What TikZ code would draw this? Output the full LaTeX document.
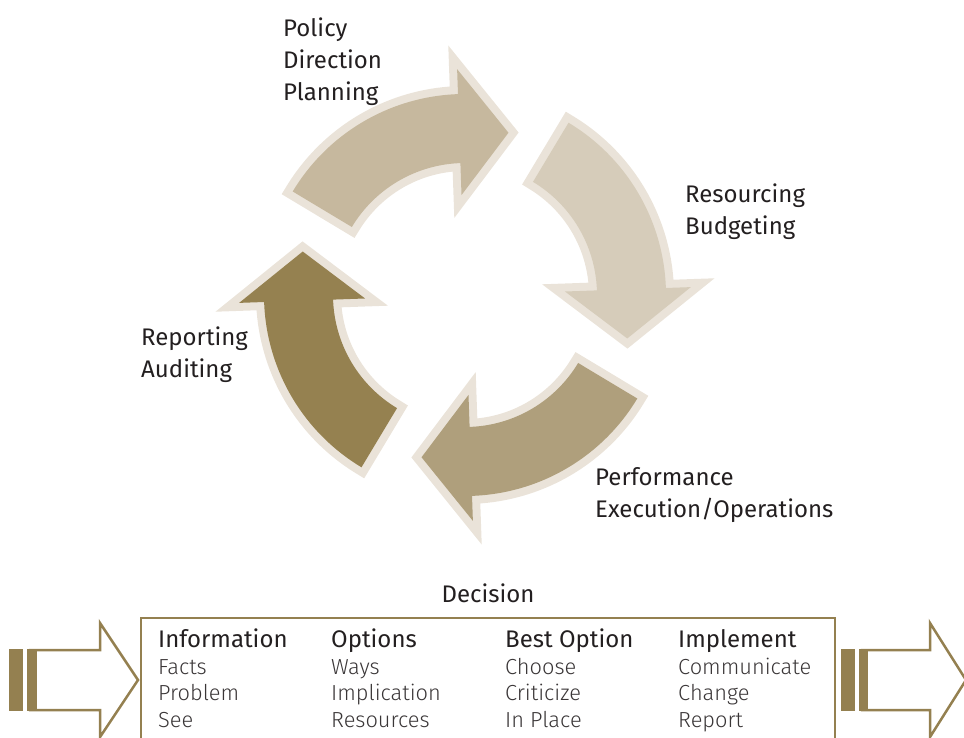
\documentclass[tikz,border=0pt]{standalone}
\usepackage{fontspec}
\setmainfont{Fira Sans}
\newfontfamily\lightfont{Fira Sans Light}
\definecolor{bord}{HTML}{EAE3D9}
\definecolor{cA}{HTML}{C6B89E}
\definecolor{cB}{HTML}{D6CCBA}
\definecolor{cC}{HTML}{AF9F7C}
\definecolor{cD}{HTML}{958150}
\definecolor{gold}{HTML}{948050}
\definecolor{ink}{HTML}{231F20}
\definecolor{itemink}{HTML}{3A3637}
\newcommand\cycarrow[2]{%
  \begin{scope}[shift={(465,-295)},rotate=#1]
    \filldraw[bord, line width=16pt, line join=miter]
      (149:201pt) arc[start angle=149,end angle=92,radius=201pt]
      -- (92:226pt) -- (75:168pt) -- (92:100pt) -- (92:132pt)
      arc[start angle=92,end angle=149,radius=132pt] -- cycle;
    \fill[#2]
      (149:201pt) arc[start angle=149,end angle=92,radius=201pt]
      -- (92:226pt) -- (75:168pt) -- (92:100pt) -- (92:132pt)
      arc[start angle=92,end angle=149,radius=132pt] -- cycle;
  \end{scope}}
\tikzset{
  lbl/.style={inner sep=0pt, anchor=base west, text=ink, font=\fontsize{24}{32}\selectfont},
  head/.style={inner sep=0pt, anchor=base west, text=ink, font=\fontsize{24}{32}\selectfont},
  item/.style={inner sep=0pt, anchor=base west, text=itemink, font=\lightfont\fontsize{21.8}{26}\selectfont},
  outl/.style={draw=gold, line width=2.5pt, line join=miter, fill=white}
}
\begin{document}
\begin{tikzpicture}[x=1pt,y=1pt]
\useasboundingbox (0,0) rectangle (964,-738);
\clip (0,0) rectangle (964,-738);

% cycle arrows
\cycarrow{0}{cA}
\cycarrow{-90}{cB}
\cycarrow{-180}{cC}
\cycarrow{-270}{cD}

% cycle labels
\node[lbl] (pol1) at (283,-37) {Policy};
\node[lbl] (pol2) at (283,-69) {Direction};
\node[lbl] (pol3) at (283,-101) {Planning};
\node[lbl] (res1) at (685,-203) {Resourcing};
\node[lbl] (res2) at (685,-235) {Budgeting};
\node[lbl] (rep1) at (141,-345) {Reporting};
\node[lbl] (rep2) at (141,-377) {Auditing};
\node[lbl] (per1) at (595,-485) {Performance};
\node[lbl] (per2) at (595,-517) {Execution/Operations};

% decision box
\node[lbl, anchor=base] (dec) at (488,-602) {Decision};
\draw[gold, line width=2.5pt] (141,-750) -- (141,-618) -- (835,-618) -- (835,-750);

\node[head] (h1) at (158,-647) {Information};
\node[item] (i11) at (158,-674) {Facts};
\node[item] (i12) at (158,-700) {Problem};
\node[item] (i13) at (158,-727) {See};

\node[head] (h2) at (331,-647) {Options};
\node[item] (i21) at (331,-674) {Ways};
\node[item] (i22) at (331,-700) {Implication};
\node[item] (i23) at (331,-727) {Resources};

\node[head] (h3) at (505,-647) {Best Option};
\node[item] (i31) at (505,-674) {Choose};
\node[item] (i32) at (505,-700) {Criticize};
\node[item] (i33) at (505,-727) {In Place};

\node[head] (h4) at (678,-647) {Implement};
\node[item] (i41) at (678,-674) {Communicate};
\node[item] (i42) at (678,-700) {Change};
\node[item] (i43) at (678,-727) {Report};

% left small arrow
\path[outl] (30,-650) -- (100,-650) -- (100,-623) -- (138,-680) -- (100,-737) -- (100,-710) -- (30,-710) -- cycle;
\fill[gold] (9,-649) rectangle (37,-711);
\fill[white] (23,-649) rectangle (27,-711);

% right small arrow
\path[outl] (862,-650) -- (930,-650) -- (930,-623) -- (966,-680) -- (930,-737) -- (930,-710) -- (862,-710) -- cycle;
\fill[gold] (841,-649) rectangle (868,-711);
\fill[white] (855,-649) rectangle (858.5,-711);
\end{tikzpicture}
\end{document}
